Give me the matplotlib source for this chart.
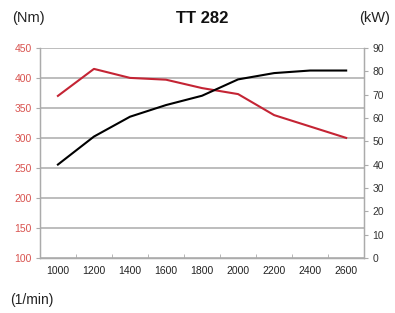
import matplotlib
matplotlib.use("Agg")
import matplotlib.pyplot as plt
import numpy as np

rpm = [1000, 1200, 1400, 1600, 1800, 2000, 2200, 2400, 2600]
torque_nm = [370, 415, 400, 397, 383, 373, 338, 319, 300]
power_kw = [40, 52, 60.5, 65.5, 69.5, 76.5, 79.2, 80.3, 80.3]
nm_ticks = [100, 150, 200, 250, 300, 350, 400, 450]
kw_ticks = [0, 10, 20, 30, 40, 50, 60, 70, 80, 90]

plt.rcParams['font.family'] = ['Liberation Sans', 'DejaVu Sans']

grid_c = "#ababab"
red = "#c42434"
tick_red = "#d9534f"

fig = plt.figure(figsize=(3.95, 3.13), dpi=100)
ax = fig.add_axes([0.101, 0.176, 0.821, 0.671])
ax2 = ax.twinx()

x = np.arange(len(rpm))
ax.plot(x, torque_nm, color=red, lw=1.5, zorder=3)
ax2.plot(x, power_kw, color="black", lw=1.5, zorder=3)

ax.set_xlim(-0.5, len(rpm) - 0.5)
ax.set_ylim(100, 450)
ax2.set_ylim(0, 90)

ax.set_yticks(nm_ticks)
ax.set_yticklabels([str(v) for v in nm_ticks], color=tick_red, fontsize=7.5)
ax2.set_yticks(kw_ticks)
ax2.set_yticklabels([str(v) for v in kw_ticks], color="#333333", fontsize=7.5)

ax.set_xticks(x)
ax.set_xticklabels([str(v) for v in rpm], fontsize=7.5, color="#222222")
ax.tick_params(axis="x", which="major", length=0, pad=6)
ax.set_xticks(np.arange(-0.5, len(rpm), 1.0), minor=True)
ax.tick_params(axis="x", which="minor", length=3, color=grid_c, direction="in")

ax.tick_params(axis="y", length=3, color=grid_c, pad=3)
ax2.tick_params(axis="y", length=3, color=grid_c, pad=3)

ax.grid(axis="y", color=grid_c, lw=1.1)
ax.set_axisbelow(True)
for a in (ax, ax2):
    for s in a.spines.values():
        s.set_color(grid_c)
        s.set_linewidth(0.9)
    a.spines["top"].set_visible(False)

fig.text(0.03, 0.942, "(Nm)", fontsize=10.5, ha="left", va="center", color="#222222")
fig.text(0.988, 0.942, "(kW)", fontsize=10.5, ha="right", va="center", color="#222222")
fig.text(0.511, 0.942, "TT 282", fontsize=12, fontweight="bold", ha="center", va="center", color="#111111")
fig.text(0.026, 0.042, "(1/min)", fontsize=10, ha="left", va="center", color="#222222")

fig.savefig("out.png", dpi=100)
